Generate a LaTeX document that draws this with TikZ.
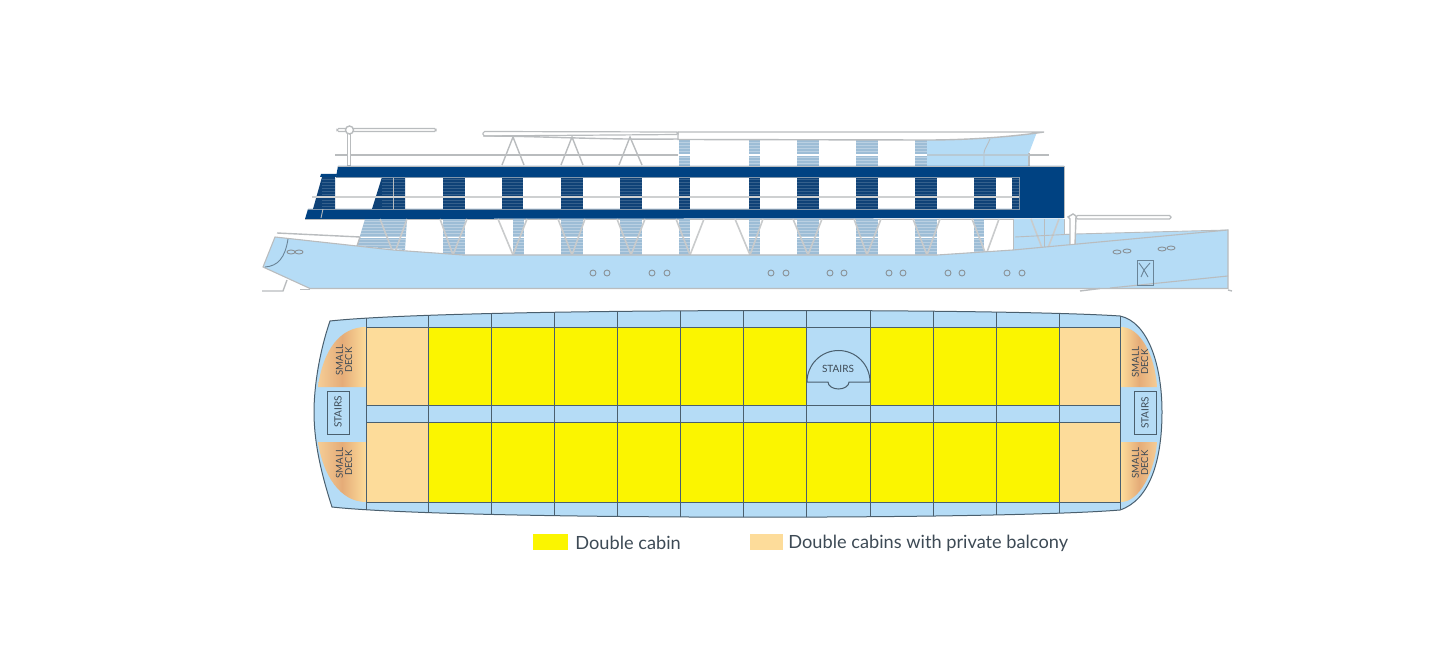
\documentclass[tikz,border=0pt]{standalone}
\usepackage{fontspec}
\setmainfont{Lato}
\definecolor{hullblue}{HTML}{B5DCF6}
\definecolor{navyband}{HTML}{004282}
\definecolor{navypost}{HTML}{0F4277}
\definecolor{postblue}{HTML}{9DBDD6}
\definecolor{framegray}{HTML}{B9BCBE}
\definecolor{vframegray}{HTML}{C9CBCC}
\definecolor{planline}{HTML}{4A5F6E}
\definecolor{cabinyellow}{HTML}{FBF500}
\definecolor{cabinpeach}{HTML}{FDDC9A}
\definecolor{decktan}{HTML}{E5AC78}
\definecolor{deckedge}{HTML}{F5CD96}
\definecolor{textgray}{HTML}{3D4A55}
\tikzset{
  frameline/.style={draw=framegray, line width=0.7pt},
  vframeline/.style={draw=vframegray, line width=0.8pt},
  thinline/.style={draw=framegray, line width=0.45pt},
  planwall/.style={draw=planline, line width=0.5pt},
  barwhite/.style={draw=framegray, fill=white, line width=0.6pt, rounded corners=0.8pt},
  porthole/.style={draw=gray!80!hullblue, line width=0.45pt},
  stripeline/.style={draw=white, opacity=0.3, line width=0.25pt},
  navystripe/.style={draw=white, opacity=0.16, line width=0.25pt},
  stairtext/.style={text=textgray, font=\fontsize{5}{5}\selectfont, inner sep=0pt},
  decktext/.style={text=textgray, font=\fontsize{4.8}{4.6}\selectfont, inner sep=0pt, align=center, rotate=90},
  legendtext/.style={text=textgray, font=\fontsize{9.1}{11}\selectfont, inner sep=0pt, anchor=west}
}
\def\planoutline{(330,321) .. controls (450,308) and (1000,308) .. (1120,316)
  .. controls (1148,322) and (1162,365) .. (1162,412)
  .. controls (1162,460) and (1150,500) .. (1120,510)
  .. controls (1000,520) and (450,520) .. (332,507)
  .. controls (320,470) and (314,440) .. (314,412)
  .. controls (314,385) and (320,350) .. (330,321) -- cycle}
\begin{document}
\begin{tikzpicture}[x=0.5pt,y=-0.5pt]
\useasboundingbox (0,0) rectangle (1440,652);

% upper deck posts
\foreach \xa/\xb in {679/690,749/760,797/819,856/878,915/927}{
  \fill[postblue] (\xa,140) rectangle (\xb,166);
  \foreach \yy in {142,145,...,165} \draw[stripeline] (\xa,\yy) -- (\xb,\yy);
}
% sun deck block
\fill[hullblue] (927,140) .. controls (960,140) and (1000,138) .. (1037,132) -- (1029,153) -- (1029,166) -- (927,166) -- cycle;
\draw[thinline] (990,139) .. controls (987,146) and (984,150) .. (984,153) -- (984,166);
\draw[frameline] (1029,153) -- (1029,166);

% roof
\draw[frameline, fill=white] (678,132) -- (1044,132) -- (1037,133) .. controls (1000,138) and (960,140) .. (927,140) -- (678,139.5) -- cycle;
\draw[barwhite] (483,131.5) -- (678,132) -- (678,134.5) -- (483,136) -- cycle;
\draw[frameline] (483,136) .. controls (540,136) and (600,140) .. (678,139);

% rails
\draw[frameline] (335,155) -- (678,155);
\draw[white, line width=0.6pt] (678,155) -- (927,155);
\draw[draw=framegray!60!hullblue, line width=0.6pt] (927,155) -- (1029,155);
\draw[frameline] (1029,155) -- (1049,155);

% A frames on top
\foreach \xa/\xm/\xb in {502/513/524,561/572/583,619/630/642}
  \draw[frameline] (\xa,165) -- (\xm,137) -- (\xb,165);

% left mast
\draw[barwhite] (337,128.5) rectangle (436,131.5);
\draw[frameline, fill=white] (347.5,132) rectangle (350.5,166);
\draw[frameline, fill=white] (349.5,130) circle (2pt);

% window posts
\foreach \xa/\xb in {443/465,502/523,561/583,620/642,679/690,749/760,797/819,856/878,915/937,974/996,1012/1019}
  \fill[navypost] (\xa,177) rectangle (\xb,209);
\fill[navypost] (322,177) -- (335,177) -- (335,209) -- (313,209) -- cycle;
\fill[navypost] (382,177) -- (405,177) -- (405,209) -- (372,209) -- cycle;

% navy bands
\fill[navyband] (338,166) -- (1064,166) -- (1064,218) -- (305,219) -- (308,209) -- (1019,209) -- (1019,177) -- (336,177) -- cycle;
\fill[navyband] (321,174) -- (337,174) -- (336,177) -- (320,177) -- cycle;
\begin{scope}
\clip (313,177) rectangle (1019,209);
\foreach \xa/\xb in {443/465,502/523,561/583,620/642,679/690,749/760,797/819,856/878,915/937,974/996,1012/1019,322/335,382/405}
  \foreach \yy in {179,182,...,208} \draw[navystripe] (\xa,\yy) -- (\xb,\yy);
\end{scope}
\draw[thinline] (393,177) -- (393,209);
\draw[draw=framegray!70!white, line width=0.55pt] (312,197) -- (1019,197);
\draw[draw=framegray!70!navyband, line width=0.3pt] (336,177) -- (1019,177) -- (1019,209) -- (308,209);
\draw[thinline] (323,209) -- (321,218);
\draw[thinline] (338,166) -- (1064,166) -- (1064,218);
\draw[thinline] (305,219) -- (1064,219);

% lower posts
\begin{scope}
\clip (365,219) -- (407,219) -- (405,250) -- (357,246) -- cycle;
\fill[postblue] (355,219) rectangle (410,252);
\foreach \yy in {221,224,...,250} \draw[stripeline] (355,\yy) -- (410,\yy);
\end{scope}
\foreach \xa/\xb in {443/465,513/524,561/583,620/642,679/690,749/760,797/819,856/878,915/937,974/984}{
  \fill[postblue] (\xa,219) rectangle (\xb,256);
  \foreach \yy in {221,224,...,255} \draw[stripeline] (\xa,\yy) -- (\xb,\yy);
}
\draw[white, line width=0.5pt] (360,238) -- (1013,238);

% block under the stern
\fill[hullblue] (1013,219) -- (1064,219) -- (1064,234) -- (1075,234) -- (1228,230) -- (1013,251) -- cycle;

% V frames
\foreach \xa/\xm/\xb in {380/394/407,440/453/467,498/513/527,558/572/585,617/631/645,676/690/704,735/750/763,793/808/822,854/867/881,913/927/940}
  \draw[vframeline] (\xa,219) -- (\xm,255) -- (\xb,219);
\draw[vframeline] (972,219) -- (985,252) (999,219) -- (987,252);
\draw[vframeline] (1031,219) -- (1042,248) (1059,219) -- (1048,248);
\draw[thinline] (1044,219) -- (1044,248);
\draw[thinline] (1064,219) -- (1064,234);
\draw[thinline] (1013,219) -- (1013,250);
\draw[thinline] (1015,237) -- (1075,234) -- (1228,230);

% right mast
\draw[barwhite] (1076,215.5) -- (1171,215.5) -- (1171,219) -- (1076,219) -- cycle;
\draw[frameline, fill=white] (1070,245) -- (1070,219) -- (1068,217) -- (1073,214) -- (1076,216) -- (1075,245) -- cycle;

% hull
\coordinate (bowtop) at (275,237);
\coordinate (bowtip) at (263,267);
\coordinate (bowfoot) at (310,288.5);
\coordinate (sternbase) at (1228,288.5);
\coordinate (sterntop) at (1228,230);
\fill[hullblue] (bowtop) -- (357,246) -- (393,250) -- (463,255) -- (937,255) -- (1013,250) -- (sterntop) -- (sternbase) -- (bowfoot) -- (bowtip) -- cycle;
\draw[frameline] (277,233) -- (360,237) (360,237) -- (357,246);
\draw[frameline, line width=0.55pt] (bowtop) -- (357,246) -- (393,250) -- (463,255) -- (937,255) -- (1013,250) -- (sterntop) -- (sternbase) -- (bowfoot) -- (bowtip) -- cycle;
\draw[frameline] (262,291) -- (283,291) -- (287,280);
\draw[frameline] (1080,291) -- (1100,288.5);
\draw[frameline] (1228,290) -- (1232,291);
\draw[frameline] (300,289.5) -- (310,289.5);
\draw[draw=planline!70!hullblue, line width=0.45pt] (288,239) .. controls (285,258) and (278,266) .. (265,267);
\draw[frameline, line width=0.55pt] (1110,288) -- (1228,276);

% doors and hawse holes
\draw[draw=planline!70!hullblue, line width=0.45pt] (1137,260) rectangle (1153,285);
\draw[draw=planline!70!hullblue, line width=0.45pt] (1139,263) -- (1144,270) -- (1150,263) (1141,277) -- (1144,270) -- (1148,277);
\foreach \xx/\yy in {291/252,299/252,1117/252,1127/251,1162/249,1171/248}
  \draw[porthole] (\xx,\yy) ellipse (2pt and 1pt);
\foreach \xx in {593,607,652,667,771,786,830,844,889,903,948,962,1007,1022}
  \draw[porthole] (\xx,273) circle (1.5pt);

% deck plan
\fill[hullblue] \planoutline;
\fill[cabinpeach] (366,327) rectangle (428,405);
\fill[cabinpeach] (366,422) rectangle (428,502);
\fill[cabinpeach] (1059,327) rectangle (1120,405);
\fill[cabinpeach] (1059,422) rectangle (1120,502);
\fill[cabinyellow] (428,327) rectangle (806,405);
\fill[cabinyellow] (870,327) rectangle (1059,405);
\fill[cabinyellow] (428,422) rectangle (1059,502);

% small decks
\shade[left color=deckedge, right color=cabinpeach, middle color=decktan] (366,327) .. controls (340,327) and (323,350) .. (318,387) -- (366,387) -- cycle;
\shade[left color=deckedge, right color=cabinpeach, middle color=decktan] (366,442) -- (318,442) .. controls (323,475) and (340,502) .. (366,502) -- cycle;
\shade[left color=cabinpeach, right color=deckedge, middle color=decktan] (1121,327) .. controls (1140,327) and (1155,355) .. (1157,387) -- (1121,387) -- cycle;
\shade[left color=cabinpeach, right color=deckedge, middle color=decktan] (1121,442) -- (1157,442) .. controls (1155,470) and (1140,502) .. (1121,502) -- cycle;

% plan walls
\begin{scope}
\clip \planoutline;
\foreach \xx in {366,428,491,554,617,680,743,806,870,933,996,1059,1120}
  \draw[planwall] (\xx,300) -- (\xx,530);
\end{scope}
\foreach \yy in {327,405,422,502}
  \draw[planwall] (366,\yy) -- (1120,\yy);
\draw[planwall] \planoutline;

% stairs
\draw[planwall] (327,391) rectangle (349,434);
\draw[planwall] (1134,391) rectangle (1156,434);
\draw[planwall] (807,382) arc[start angle=180, end angle=0, radius=15.75pt] -- (849,382) arc[start angle=0, end angle=-180, x radius=5.25pt, y radius=3.5pt] -- cycle;
\node[stairtext] (stairsmid) at (838,369) {STAIRS};
\node[stairtext, rotate=90] (stairsleft) at (338,412) {STAIRS};
\node[stairtext, rotate=90] (stairsright) at (1145,413) {STAIRS};
\node[decktext] (deckleftup) at (344,360) {SMALL\\DECK};
\node[decktext] (deckleftlow) at (344,463) {SMALL\\DECK};
\node[decktext] (deckrightup) at (1140,362) {SMALL\\DECK};
\node[decktext] (deckrightlow) at (1140,463) {SMALL\\DECK};

% legend
\fill[cabinyellow] (533,534) rectangle (568,550);
\fill[cabinpeach] (750,534) rectangle (783,550);
\node[legendtext] (legenddouble) at (575,543) {Double cabin};
\node[legendtext] (legendbalcony) at (788,543) {Double cabins with private balcony};
\end{tikzpicture}
\end{document}
